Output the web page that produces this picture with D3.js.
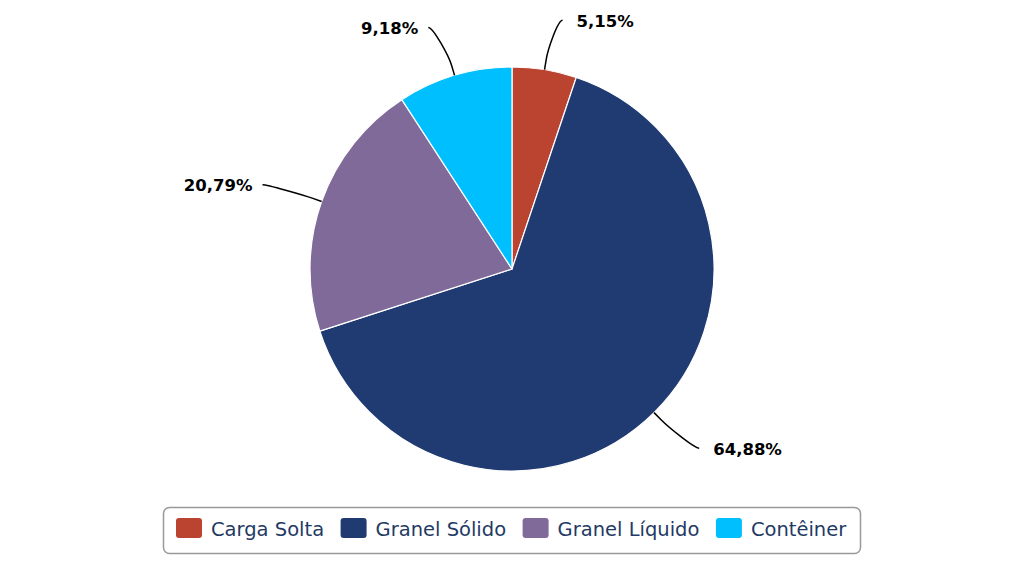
<!DOCTYPE html>
<html>
<head>
<meta charset="utf-8">
<script src="https://cdn.jsdelivr.net/npm/d3@7"></script>
<style>
  html, body { margin: 0; padding: 0; background: #fff; }
  svg { display: block; }
</style>
</head>
<body>
<svg id="chart" width="1024" height="561"></svg>
<script>
const categories = ["Carga Solta", "Granel Sólido", "Granel Líquido", "Contêiner"];
const values = [5.15, 64.88, 20.79, 9.18];
const valueLabels = ["5,15%", "64,88%", "20,79%", "9,18%"];
const colors = ["#BA4430", "#203A72", "#7F6A9A", "#00BFFF"];

const svg = d3.select("#chart");
const cx = 512, cy = 269, r = 202, labelR = 252;

const pie = d3.pie().sort(null).value(d => d).startAngle(0).endAngle(2 * Math.PI);
const arcs = pie(values);
const arc = d3.arc().innerRadius(0).outerRadius(r);

const g = svg.append("g").attr("transform", `translate(${cx},${cy})`);

g.selectAll("path.slice")
  .data(arcs)
  .join("path")
  .attr("class", "slice")
  .attr("d", arc)
  .attr("fill", (d, i) => colors[i])
  .attr("stroke", "#fff")
  .attr("stroke-width", 1.2)
  .attr("stroke-linejoin", "round");

// labels + connectors
arcs.forEach((d, i) => {
  const a = (d.startAngle + d.endAngle) / 2;
  const sx = Math.sin(a), sy = -Math.cos(a);
  const right = sx >= 0;
  const sign = right ? 1 : -1;
  const ly = sy * labelR;
  const lxCircle = sign * Math.sqrt(Math.max(0, labelR * labelR - ly * ly));
  const ex = lxCircle + sign * (right ? 10 : 12), ey = ly;
  const touch = [sx * r, sy * r];
  const brk = [sx * (r + 10), sy * (r + 10)];
  const c2 = [2 * brk[0] - touch[0], 2 * brk[1] - touch[1]];
  const c1 = [ex - sign * 5, ey];
  const p = d3.path();
  p.moveTo(ex, ey);
  p.bezierCurveTo(c1[0], c1[1], c2[0], c2[1], brk[0], brk[1]);
  p.lineTo(touch[0], touch[1]);
  g.append("path")
    .attr("d", p.toString())
    .attr("fill", "none")
    .attr("stroke", "#000")
    .attr("stroke-width", 1.5);
  g.append("text")
    .attr("x", ex + sign * (right ? 14 : 10))
    .attr("y", ey + 6.5)
    .attr("text-anchor", right ? "start" : "end")
    .attr("font-family", "DejaVu Sans")
    .attr("font-weight", "bold")
    .attr("font-size", 16.5)
    .attr("fill", "#000")
    .text(valueLabels[i]);
});

// legend
const legend = svg.append("g");
legend.append("rect")
  .attr("x", 163.5).attr("y", 507.5)
  .attr("width", 697).attr("height", 46)
  .attr("rx", 6).attr("ry", 6)
  .attr("fill", "#fff")
  .attr("stroke", "#999")
  .attr("stroke-width", 1.5);

let x = 176;
categories.forEach((c, i) => {
  legend.append("rect")
    .attr("x", x).attr("y", 518)
    .attr("width", 26).attr("height", 20)
    .attr("rx", 3).attr("ry", 3)
    .attr("fill", colors[i]);
  const t = legend.append("text")
    .attr("x", x + 35).attr("y", 536)
    .attr("font-family", "DejaVu Sans")
    .attr("font-size", 19.5)
    .attr("fill", "#1F3A63")
    .text(c);
  x = x + 35 + t.node().getComputedTextLength() + 16.5;
});
</script>
</body>
</html>
